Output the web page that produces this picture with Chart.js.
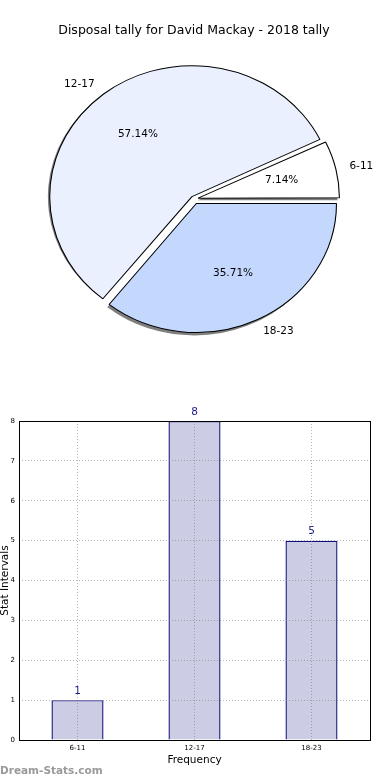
<!DOCTYPE html>
<html>
<head>
<meta charset="utf-8">
<script src="https://cdn.jsdelivr.net/npm/chart.js@4.4.1/dist/chart.umd.min.js"></script>
<style>
    body { margin: 0; background: #fff; width: 390px; height: 780px; position: relative; overflow: hidden; }
    #pieChart { position: absolute; left: 0; top: 0; }
    #barChart { position: absolute; left: 0; top: 400px; }
    .watermark { position: absolute; left: 0; top: 764px; font: bold 10.5px "DejaVu Sans", sans-serif; color: #9a9a9a; }
</style>
</head>
<body>
<canvas id="pieChart" width="390" height="400"></canvas>
<canvas id="barChart" width="390" height="380"></canvas>
<div class="watermark">Dream-Stats.com</div>
<script>
const titleText = 'Disposal tally for David Mackay - 2018 tally';
const categories = ['6-11', '12-17', '18-23'];
const counts = [1, 8, 5];
const yTicks = [0, 1, 2, 3, 4, 5, 6, 7, 8];
const pieColors = ['#ffffff', '#eaf0fe', '#c4d8fe'];

const FONT = '"DejaVu Sans", sans-serif';
const EXPLODE = 6;      // px each slice is pushed out
const STRETCH = 1.086;  // pie is a bit wider than tall

const total = counts.reduce((a, b) => a + b, 0);

// chart.js draws slices clockwise, matplotlib counter-clockwise -> reverse
const pieLabels = categories.slice().reverse();
const pieValues = counts.slice().reverse();
const pieFill = pieColors.slice().reverse();

// chart.js offset is scaled by /4 and by slice size, undo that so all move EXPLODE px
function offsetFor(value) {
    const circ = value / total * Math.PI * 2;
    const fix = 1 - Math.sin(Math.min(Math.PI, circ));
    return 4 * EXPLODE / (1 + fix);
}

const pieExtras = {
    id: 'pieExtras',
    beforeDatasetsDraw(chart) {
        const ctx = chart.ctx;
        const a = chart.chartArea;
        const cx = (a.left + a.right) / 2, cy = (a.top + a.bottom) / 2;
        ctx.save();
        ctx.translate(cx, cy);
        ctx.scale(STRETCH, 1);
        ctx.translate(-cx, -cy);
        // gray shadow under every wedge, taken from the arc elements
        ctx.save();
        ctx.translate(-2.5 / STRETCH, 2.5);
        ctx.fillStyle = 'rgba(0,0,0,0.5)';
        chart.getDatasetMeta(0).data.forEach(arc => {
            const mid = (arc.startAngle + arc.endAngle) / 2;
            const x = arc.x + Math.cos(mid) * EXPLODE;
            const y = arc.y + Math.sin(mid) * EXPLODE;
            ctx.beginPath();
            ctx.moveTo(x, y);
            ctx.arc(x, y, arc.outerRadius + 0.5, arc.startAngle, arc.endAngle);
            ctx.closePath();
            ctx.fill();
        });
        ctx.restore();
    },
    afterDatasetsDraw(chart) {
        const ctx = chart.ctx;
        ctx.restore();
        const meta = chart.getDatasetMeta(0);
        ctx.save();
        ctx.font = '10.5px ' + FONT;
        ctx.fillStyle = '#000';
        ctx.textBaseline = 'middle';
        meta.data.forEach((arc, i) => {
            const mid = (arc.startAngle + arc.endAngle) / 2;
            const r = arc.outerRadius;
            const dx = Math.cos(mid) * STRETCH, dy = Math.sin(mid);
            const lx = arc.x + (EXPLODE + 1.1 * r) * dx;
            const ly = arc.y + (EXPLODE + 1.1 * r) * dy;
            ctx.textAlign = dx >= 0 ? 'left' : 'right';
            ctx.fillText(pieLabels[i], lx, ly);
            const pct = (pieValues[i] / total * 100).toFixed(2) + '%';
            ctx.textAlign = 'center';
            ctx.fillText(pct, arc.x + (EXPLODE + 0.6 * r) * dx, arc.y + (EXPLODE + 0.6 * r) * dy);
        });
        ctx.restore();
    }
};

new Chart(document.getElementById('pieChart'), {
    type: 'pie',
    data: {
        labels: pieLabels,
        datasets: [{
            data: pieValues,
            backgroundColor: pieFill,
            borderColor: '#000',
            borderWidth: 1,
            offset: pieValues.map(offsetFor),
            hoverOffset: 0,
        }],
    },
    options: {
        responsive: false,
        animation: false,
        rotation: 90,
        radius: 128,
        layout: { padding: { left: 0, right: 2, top: 0, bottom: 50 } },
        events: [],
        plugins: {
            legend: { display: false },
            tooltip: { enabled: false },
            title: {
                display: true,
                text: titleText,
                color: '#000',
                font: { family: FONT, size: 12.5, weight: 'normal', lineHeight: 1.2 },
                padding: { top: 23, bottom: 10 },
            },
        },
    },
    plugins: [pieExtras],
});

// box round the plot area and the counts above each bar
const barExtras = {
    id: 'barExtras',
    afterDatasetsDraw(chart) {
        const ctx = chart.ctx;
        const meta = chart.getDatasetMeta(0);
        ctx.save();
        ctx.font = '10.5px ' + FONT;
        ctx.fillStyle = '#1a1a8c';
        ctx.textAlign = 'center';
        ctx.textBaseline = 'middle';
        meta.data.forEach((bar, i) => {
            ctx.fillText(String(counts[i]), bar.x, bar.y - 9);
        });
        ctx.restore();
    },
    afterDraw(chart) {
        const ctx = chart.ctx;
        const a = chart.chartArea;
        ctx.save();
        ctx.strokeStyle = '#000';
        ctx.lineWidth = 1;
        ctx.strokeRect(a.left + 0.5, a.top + 0.5, a.right - a.left, a.bottom - a.top);
        ctx.restore();
    }
};

const gridStyle = {
    color: 'rgba(120,120,120,0.55)',
    lineWidth: 1,
    z: 1,
    drawTicks: false,
    offset: false,
};

new Chart(document.getElementById('barChart'), {
    type: 'bar',
    data: {
        labels: categories,
        datasets: [{
            data: counts,
            backgroundColor: '#ccccE5',
            borderColor: '#10107f',
            borderWidth: 1.4,
            barPercentage: 0.445,
            categoryPercentage: 1,
        }],
    },
    options: {
        responsive: false,
        animation: false,
        events: [],
        layout: { padding: { left: 0, right: 20, top: 21, bottom: 0 } },
        plugins: { legend: { display: false }, tooltip: { enabled: false } },
        scales: {
            x: {
                offset: true,
                grid: { ...gridStyle },
                border: { display: false, dash: [1, 2] },
                ticks: { color: '#000', font: { family: FONT, size: 7 }, padding: 4 },
                title: {
                    display: true, text: 'Frequency', color: '#000',
                    font: { family: FONT, size: 10.5, lineHeight: 1.2 },
                    padding: { top: 0, bottom: 13 },
                },
                afterFit(scale) { scale.height = 40; },
            },
            y: {
                min: 0,
                max: 8,
                afterBuildTicks(scale) { scale.ticks = yTicks.map(v => ({ value: v })); },
                grid: { ...gridStyle },
                border: { display: false, dash: [1, 2] },
                ticks: { color: '#000', font: { family: FONT, size: 7 }, padding: 4 },
                title: {
                    display: true, text: 'Stat Intervals', color: '#000',
                    font: { family: FONT, size: 10.5, lineHeight: 1 },
                    padding: 0,
                },
                afterFit(scale) { scale.width = 19; },
            },
        },
    },
    plugins: [barExtras],
});
</script>
</body>
</html>
